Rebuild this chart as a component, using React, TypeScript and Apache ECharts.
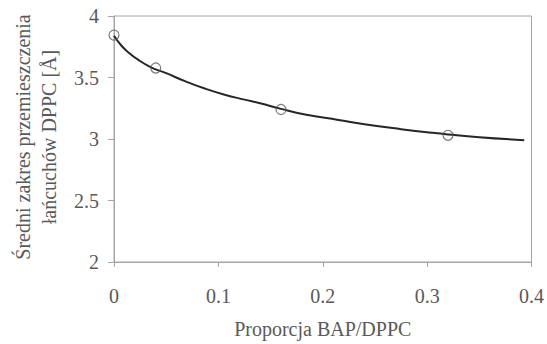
import React, { useEffect, useRef } from "react";
import * as echarts from "echarts";

const pointX = [0, 0.04, 0.16, 0.32];
const pointY = [3.845, 3.577, 3.24, 3.03];

const curveX = [0, 0.007, 0.013, 0.023, 0.035, 0.05, 0.068, 0.087, 0.106, 0.125, 0.14, 0.16, 0.183, 0.215, 0.24, 0.275, 0.305, 0.32, 0.35, 0.393];
const curveY = [3.84, 3.76, 3.71, 3.645, 3.585, 3.535, 3.47, 3.41, 3.36, 3.32, 3.29, 3.245, 3.2, 3.155, 3.12, 3.08, 3.05, 3.037, 3.015, 2.99];

const xTicks = [0, 0.1, 0.2, 0.3, 0.4];
const yTicks = [2, 2.5, 3, 3.5, 4];

const xTitle = "Proporcja BAP/DPPC";
const yTitleLines = ["Średni zakres przemieszczenia", "łańcuchów DPPC [Å]"];

const FONT = "Liberation Serif";
const TEXT = "#595959";
const AXIS = "#a6a6a6";

export default function App() {
  const ref = useRef<HTMLDivElement>(null);
  useEffect(() => {
    if (!ref.current) return;
    const chart = echarts.init(ref.current, undefined, { renderer: "svg" });
    chart.setOption({
      animation: false,
      backgroundColor: "#ffffff",
      grid: {
        left: 114,
        right: 12,
        top: 16,
        bottom: 74,
        show: true,
        borderColor: AXIS,
        borderWidth: 1,
      },
      xAxis: {
        type: "value",
        min: xTicks[0],
        max: xTicks[xTicks.length - 1],
        interval: 0.1,
        name: xTitle,
        nameLocation: "middle",
        nameGap: 57,
        nameTextStyle: { fontFamily: FONT, fontSize: 20, color: TEXT },
        axisLine: { show: true, lineStyle: { color: AXIS } },
        axisTick: { show: true, length: 5, lineStyle: { color: AXIS } },
        axisLabel: {
          fontFamily: FONT,
          fontSize: 20,
          color: TEXT,
          margin: 24,
          formatter: (v: number) => String(Math.round(v * 10) / 10),
        },
        splitLine: { show: false },
      },
      yAxis: {
        type: "value",
        min: yTicks[0],
        max: yTicks[yTicks.length - 1],
        interval: 0.5,
        axisLine: { show: true, lineStyle: { color: AXIS } },
        axisTick: { show: true, length: 6, lineStyle: { color: AXIS } },
        axisLabel: {
          fontFamily: FONT,
          fontSize: 20,
          color: TEXT,
          margin: 15,
        },
        splitLine: { show: false },
      },
      graphic: yTitleLines.map((t, i) => ({
        type: "text",
        x: 23 + i * 26,
        y: 137,
        rotation: Math.PI / 2,
        style: {
          text: t,
          fontFamily: FONT,
          fontSize: 20,
          fill: TEXT,
          textAlign: "center",
          textVerticalAlign: "middle",
        },
      })),
      series: [
        {
          type: "line",
          data: curveX.map((x, i) => [x, curveY[i]]),
          smooth: true,
          showSymbol: false,
          lineStyle: { color: "#262626", width: 2 },
          z: 2,
        },
        {
          type: "scatter",
          data: pointX.map((x, i) => [x, pointY[i]]),
          symbol: "circle",
          symbolSize: 10,
          itemStyle: { color: "rgba(255,255,255,0)", borderColor: "#595959", borderWidth: 1.2 },
          z: 3,
        },
      ],
    });
    return () => chart.dispose();
  }, []);
  return <div ref={ref} style={{ width: 547, height: 344, position: "absolute", left: 0, top: 0 }} />;
}
